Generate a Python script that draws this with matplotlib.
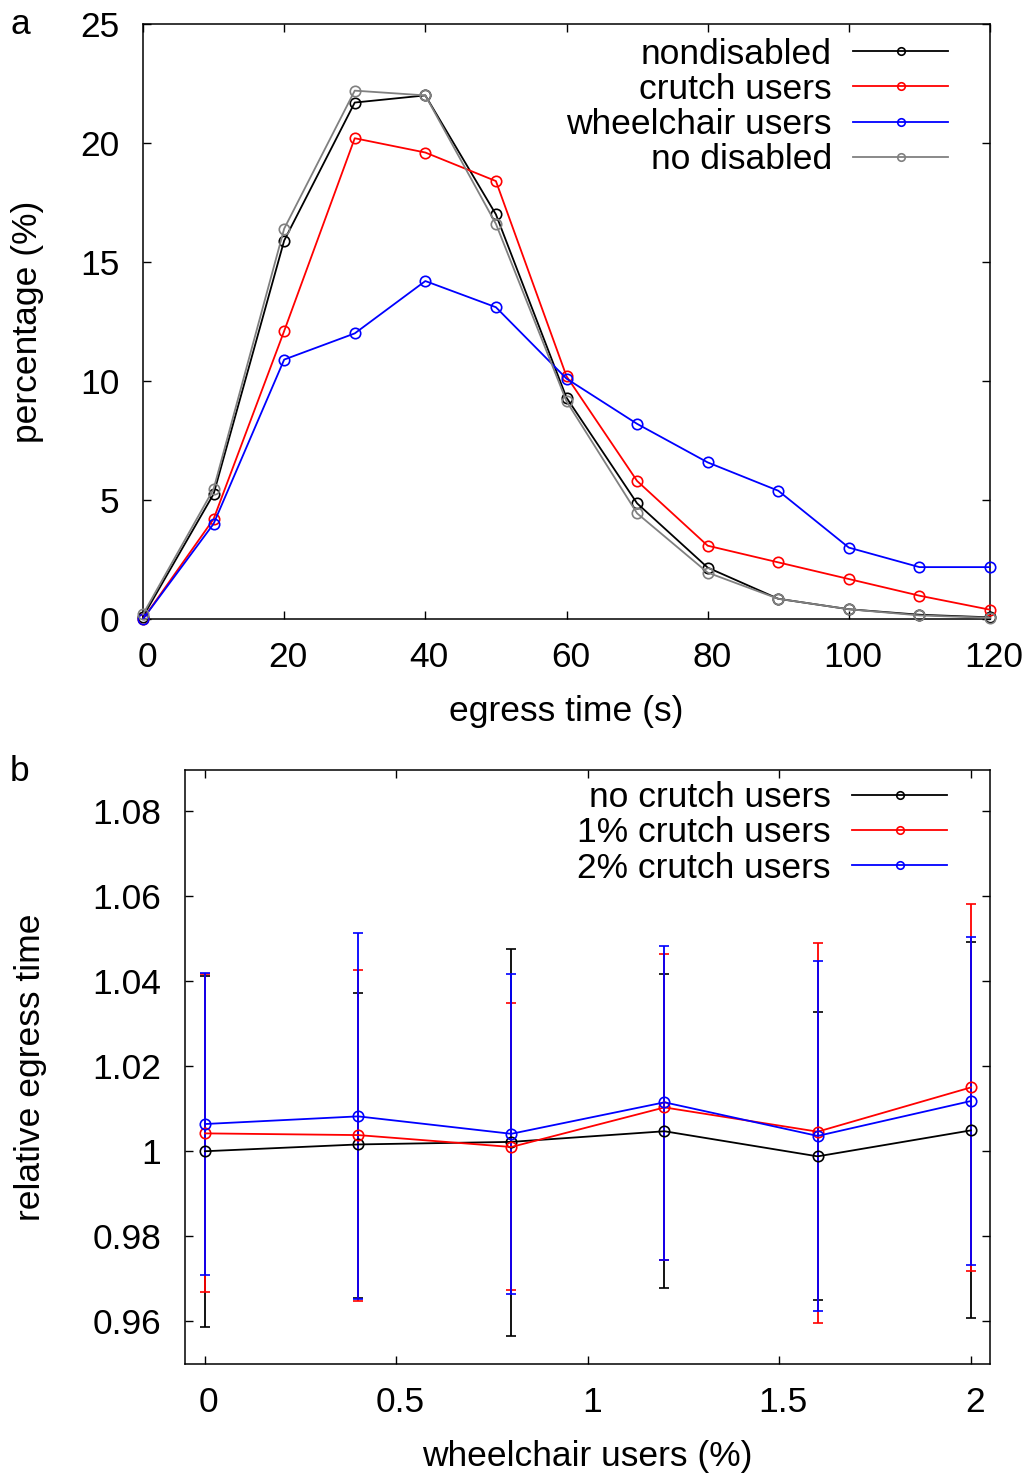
import matplotlib
matplotlib.use("Agg")
import matplotlib.pyplot as plt
import matplotlib.transforms as mtransforms
from matplotlib.lines import Line2D
import numpy as np

plt.rcParams['font.family'] = ['Liberation Sans', 'DejaVu Sans']

# ---- panel a data ----
egress_time = [0, 10, 20, 30, 40, 50, 60, 70, 80, 90, 100, 110, 120]
nondisabled = [0.1, 5.25, 15.9, 21.7, 22.0, 17.0, 9.3, 4.86, 2.16, 0.85, 0.41, 0.18, 0.07]
crutch_users = [0.0, 4.2, 12.1, 20.2, 19.6, 18.4, 10.2, 5.8, 3.08, 2.38, 1.68, 0.98, 0.39]
wheelchair_users = [0.0, 4.0, 10.9, 12.0, 14.2, 13.1, 10.1, 8.2, 6.58, 5.39, 3.0, 2.18, 2.18]
no_disabled = [0.2, 5.46, 16.4, 22.2, 22.0, 16.6, 9.15, 4.44, 1.95, 0.85, 0.41, 0.15, 0.05]
labels_a = ["nondisabled", "crutch users", "wheelchair users", "no disabled"]

# ---- panel b data ----
wheelchair_pct = [0, 0.4, 0.8, 1.2, 1.6, 2.0]
no_crutch = [1.0, 1.0016, 1.0022, 1.0047, 0.9988, 1.0049]
no_crutch_low = [0.9587, 0.9656, 0.9566, 0.9678, 0.9650, 0.9609]
no_crutch_high = [1.0411, 1.0373, 1.0475, 1.0416, 1.0327, 1.0491]
crutch1 = [1.0042, 1.0038, 1.0010, 1.0103, 1.0046, 1.0150]
crutch1_low = [0.9670, 0.9649, 0.9674, 0.9745, 0.9597, 0.9718]
crutch1_high = [1.0416, 1.0427, 1.0348, 1.0464, 1.0489, 1.0581]
crutch2 = [1.0064, 1.0082, 1.0041, 1.0115, 1.0036, 1.0118]
crutch2_low = [0.9710, 0.9652, 0.9664, 0.9745, 0.9625, 0.9732]
crutch2_high = [1.0419, 1.0513, 1.0417, 1.0482, 1.0446, 1.0503]
labels_b = ["no crutch users", "1% crutch users", "2% crutch users"]
yticks_b = [0.96, 0.98, 1.0, 1.02, 1.04, 1.06, 1.08]
yticklabels_b = ["0.96", "0.98", "1", "1.02", "1.04", "1.06", "1.08"]
xticks_b = [0, 0.5, 1, 1.5, 2]
xticklabels_b = ["0", "0.5", "1", "1.5", "2"]

W, H = 1030, 1474
fig = plt.figure(figsize=(W / 100, H / 100), dpi=100)

FS = 25.5
LW = 1.3
MS = 7.5
MEW = 1.2


def style_axes(ax):
    for s in ax.spines.values():
        s.set_linewidth(1.1)
        s.set_color('black')
    ax.tick_params(direction='in', length=6, width=1.0, top=True, right=True,
                   labelsize=FS)
    ax.tick_params(axis='x', pad=16)
    ax.tick_params(axis='y', pad=17)
    shift = mtransforms.ScaledTranslation(4 / 100, 0, fig.dpi_scale_trans)
    for lab in ax.get_xticklabels():
        lab.set_transform(lab.get_transform() + shift)


def legend_handles(colors):
    return [Line2D([], [], color=c, lw=LW, marker='o', ms=MS * 0.72, mfc='none',
                   mec=c, mew=MEW) for c in colors]


leg_kw = dict(loc='upper right', frameon=False, markerfirst=False, fontsize=FS,
              handlelength=2.69, handletextpad=0.6, labelspacing=0.06,
              borderpad=0, borderaxespad=0)

ax1 = fig.add_axes([143 / W, 1 - 619 / H, (990 - 143) / W, (619 - 24) / H])
colors_a = ['black', 'red', 'blue', '#808080']
for series, lab, c in zip([nondisabled, crutch_users, wheelchair_users, no_disabled],
                          labels_a, colors_a):
    ax1.plot(egress_time, series, color=c, lw=LW, marker='o', ms=MS, mfc='none',
             mec=c, mew=MEW, label=lab, clip_on=False, zorder=3)
ax1.set_xlim(0, 120)
ax1.set_ylim(0, 25)
ax1.set_xticks(range(0, 121, 20))
ax1.set_yticks(range(0, 26, 5))
style_axes(ax1)
ax1.set_xlabel("egress time (s)", fontsize=FS, labelpad=15)
ax1.set_ylabel("percentage (%)", fontsize=FS, labelpad=26)
ax1.legend(legend_handles(colors_a), labels_a, bbox_to_anchor=(0.951, 0.977), **leg_kw)

ax2 = fig.add_axes([185 / W, 1 - 1364 / H, (990 - 185) / W, (1364 - 770) / H])
colors_b = ['black', 'red', 'blue']
for y, lo, hi, lab, c in zip([no_crutch, crutch1, crutch2],
                             [no_crutch_low, crutch1_low, crutch2_low],
                             [no_crutch_high, crutch1_high, crutch2_high],
                             labels_b, colors_b):
    y = np.array(y)
    yerr = [y - np.array(lo), np.array(hi) - y]
    ax2.errorbar(wheelchair_pct, y, yerr=yerr, color=c, lw=LW, elinewidth=LW,
                 capsize=3.5, capthick=LW, marker='o', ms=MS, mfc='none', mec=c,
                 mew=MEW, label=lab)
ax2.set_xlim(-0.052, 2.05)
ax2.set_ylim(0.95, 1.0896)
ax2.set_xticks(xticks_b)
ax2.set_xticklabels(xticklabels_b)
ax2.set_yticks(yticks_b)
ax2.set_yticklabels(yticklabels_b)
style_axes(ax2)
ax2.set_xlabel("wheelchair users (%)", fontsize=FS, labelpad=15)
ax2.set_ylabel("relative egress time", fontsize=FS, labelpad=33)
ax2.legend(legend_handles(colors_b), labels_b, bbox_to_anchor=(0.947, 0.981), **leg_kw)

fig.text(20 / W, 1 - 25 / H, "a", fontsize=FS, ha='center', va='center')
fig.text(20 / W, 1 - 772 / H, "b", fontsize=FS, ha='center', va='center')

fig.savefig("out.png", dpi=100)
